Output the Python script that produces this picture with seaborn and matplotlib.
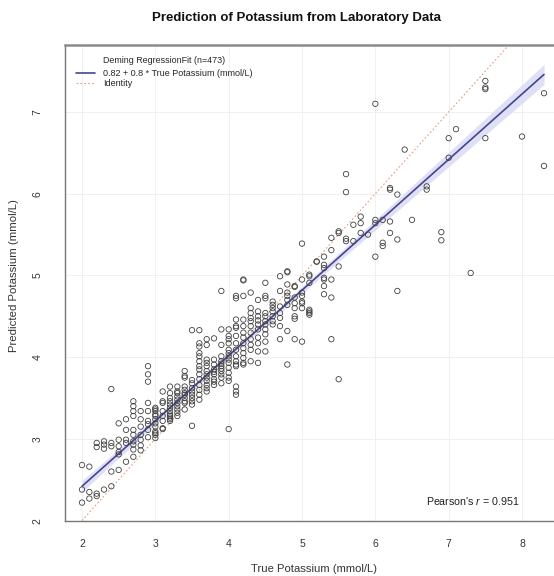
import numpy as np
import pandas as pd
import matplotlib
matplotlib.use("Agg")
import matplotlib.pyplot as plt
import seaborn as sns

# ---------------- data ----------------
true_levels = [2.0, 2.1, 2.2, 2.3, 2.4, 2.5, 2.6, 2.7, 2.8, 2.9,
               3.0, 3.1, 3.2, 3.3, 3.4, 3.5, 3.6, 3.7, 3.8, 3.9,
               4.0, 4.1, 4.2, 4.3, 4.4, 4.5, 4.6, 4.7, 4.8, 4.9,
               5.0, 5.1, 5.2, 5.3, 5.4, 5.5, 5.6, 5.7, 5.8, 5.9,
               6.0, 6.1, 6.2, 6.3, 6.4, 6.5, 6.7, 6.9, 7.0, 7.1,
               7.3, 7.5, 8.0, 8.3]
pred_by_level = [
    [2.68, 2.38, 2.22],
    [2.66, 2.35, 2.27],
    [2.95, 2.90, 2.33, 2.30],
    [2.97, 2.93, 2.88, 2.38],
    [3.61, 2.91, 2.95, 2.60, 2.42],
    [2.99, 2.91, 2.84, 2.62, 3.19, 2.81],
    [3.24, 3.11, 2.95, 2.72, 2.99],
    [3.46, 3.40, 3.34, 3.28, 3.11, 2.97, 2.93, 2.87, 2.78, 3.05],
    [3.34, 3.24, 2.99, 2.86, 3.15, 3.05, 2.92],
    [3.89, 3.79, 3.70, 3.44, 3.34, 3.22, 3.18, 3.11, 3.02],
    [3.38, 3.34, 3.28, 3.24, 3.19, 3.15, 3.09, 3.05, 3.01, 3.36, 3.30, 3.07],
    [3.58, 3.46, 3.44, 3.34, 3.13, 3.12, 3.28, 3.22],
    [3.64, 3.56, 3.50, 3.46, 3.42, 3.38, 3.34, 3.30, 3.26, 3.22, 3.28, 3.24],
    [3.64, 3.58, 3.52, 3.48, 3.44, 3.40, 3.36, 3.32, 3.28, 3.56],
    [3.83, 3.77, 3.75, 3.64, 3.60, 3.56, 3.54, 3.50, 3.46, 3.44, 3.36],
    [4.33, 3.68, 3.62, 3.58, 3.54, 3.50, 3.46, 3.16, 3.72, 3.42],
    [4.33, 4.17, 4.13, 4.05, 4.01, 3.95, 3.89, 3.85, 3.79, 3.73, 3.66, 3.60, 3.54, 3.48],
    [4.22, 4.15, 3.97, 3.93, 3.89, 3.83, 3.79, 3.75, 3.71, 3.66, 3.62, 3.58],
    [4.23, 3.97, 3.91, 3.85, 3.79, 3.73, 3.66, 3.70, 3.82],
    [4.81, 4.34, 4.15, 4.01, 3.95, 3.89, 3.83, 3.79, 3.75, 3.68, 3.86, 3.92],
    [4.34, 4.26, 4.22, 4.17, 4.09, 4.05, 4.01, 3.97, 3.93, 3.87, 3.81, 3.75, 3.71, 3.12],
    [4.75, 4.72, 4.46, 4.38, 4.36, 4.26, 4.17, 4.09, 4.01, 3.95, 3.91, 3.89, 3.64, 3.58, 3.54],
    [4.95, 4.94, 4.75, 4.46, 4.38, 4.30, 4.24, 4.17, 4.11, 4.05, 3.99, 3.93, 3.91],
    [4.79, 4.60, 4.54, 4.48, 4.44, 4.38, 4.30, 4.22, 4.15, 4.09, 3.95],
    [4.70, 4.56, 4.40, 4.34, 4.24, 4.17, 4.07, 3.93, 4.50, 4.45],
    [4.91, 4.75, 4.72, 4.54, 4.50, 4.44, 4.40, 4.34, 4.28, 4.19, 4.07],
    [4.64, 4.60, 4.56, 4.50, 4.44, 4.40, 4.68],
    [4.99, 4.81, 4.54, 4.48, 4.38, 4.22, 4.62],
    [5.05, 5.04, 4.89, 4.79, 4.75, 4.70, 4.64, 4.32, 3.91],
    [4.87, 4.86, 4.73, 4.66, 4.60, 4.50, 4.47, 4.22],
    [5.39, 4.95, 4.79, 4.75, 4.68, 4.66, 4.60, 4.19],
    [5.01, 4.99, 4.91, 4.58, 4.56, 4.54, 4.52],
    [5.17, 5.17],
    [5.23, 5.13, 5.09, 4.97, 4.95, 4.87, 4.77],
    [5.46, 5.31, 4.95, 4.73, 4.22],
    [5.54, 5.52, 5.11, 3.73],
    [6.24, 6.02, 5.45, 5.42],
    [5.62, 5.42],
    [5.72, 5.64, 5.52],
    [5.50],
    [7.10, 5.68, 5.64, 5.23],
    [5.68, 5.40, 5.36],
    [6.07, 6.05, 5.66, 5.52],
    [5.99, 5.44, 4.81],
    [6.54],
    [5.68],
    [6.09, 6.05],
    [5.53, 5.43],
    [6.68, 6.44],
    [6.79],
    [5.03],
    [7.38, 7.30, 7.28, 6.68],
    [6.70],
    [7.23, 6.34],
]

fit_intercept = 0.82
fit_slope = 0.8
n_obs = 473
pearson_r = 0.951

title_text = "Prediction of Potassium from Laboratory Data"
x_label = "True Potassium (mmol/L)"
y_label = "Predicted Potassium (mmol/L)"
legend_title = "Deming RegressionFit (n=473)"
fit_label = "0.82 + 0.8 * True Potassium (mmol/L)"
identity_label = "Identity"
x_ticks = [2, 3, 4, 5, 6, 7, 8]
y_ticks = [2, 3, 4, 5, 6, 7]

# ---------------- build table ----------------
true_k = [x for x, ys in zip(true_levels, pred_by_level) for _ in ys]
pred_k = [y for ys in pred_by_level for y in ys]
df = pd.DataFrame({"true": true_k, "pred": pred_k})

# fitted line + confidence band from the data
xs = np.linspace(min(true_k), max(true_k), 200)
fit = fit_intercept + fit_slope * xs
resid = df["pred"] - (fit_intercept + fit_slope * df["true"])
s_res = np.sqrt(np.sum(resid ** 2) / (len(df) - 2))
xbar = df["true"].mean()
sxx = np.sum((df["true"] - xbar) ** 2)
se = s_res * np.sqrt(1.0 / len(df) + (xs - xbar) ** 2 / sxx)
band = 1.96 * se
line_df = pd.DataFrame({"x": xs, "fit": fit, "ident": xs})

# ---------------- figure ----------------
sns.set_style("white")
plt.rcParams["font.family"] = ["Liberation Sans", "DejaVu Sans"]
plt.rcParams["mathtext.fontset"] = "custom"
plt.rcParams["mathtext.it"] = "Liberation Sans:italic"
plt.rcParams["mathtext.rm"] = "Liberation Sans"

fig = plt.figure(figsize=(5.54, 5.76), dpi=100)
fig.patch.set_facecolor("white")
ax = fig.add_axes([65 / 554, 55 / 576, 495 / 554, 476 / 576])

ax.set_xlim(1.768, 8.518)
ax.set_ylim(1.995, 7.82)

for v in x_ticks:
    ax.axvline(v, color="#f0f0f0", lw=0.7, zorder=0)
for v in y_ticks:
    ax.axhline(v, color="#f0f0f0", lw=0.7, zorder=0)

ax.fill_between(xs, fit - band, fit + band, color="#dcdcf6", alpha=0.9, lw=0, zorder=1)
sns.lineplot(data=line_df, x="x", y="ident", ax=ax, color="#e3a07f", lw=0.8,
             linestyle=(0, (1.5, 2)), label=identity_label, zorder=2)
sns.lineplot(data=line_df, x="x", y="fit", ax=ax, color="#45458f", lw=1.2,
             label=fit_label, zorder=3)
sns.scatterplot(data=df, x="true", y="pred", ax=ax, marker="o", s=15,
                facecolor="none", edgecolor="#404040", linewidth=0.6, zorder=4)

# legend (fit first, then identity)
handles, labels = ax.get_legend_handles_labels()
order = [labels.index(fit_label), labels.index(identity_label)]
leg = ax.legend([handles[i] for i in order], [labels[i] for i in order],
                title=legend_title, loc="upper left", frameon=False,
                fontsize=6.5, title_fontsize=6.4, handlelength=2.2,
                handletextpad=0.8, labelspacing=0.2,
                bbox_to_anchor=(0.005, 0.995))
leg._legend_box.sep = 3

ax.text(7.97, 2.24, "Pearson's $\\it{r}$ = " + f"{pearson_r:.3f}", ha="right",
        va="center", fontsize=7.7, color="#222222")

ax.set_xticks(x_ticks)
ax.set_yticks(y_ticks)
ax.set_xticklabels([str(t) for t in x_ticks], fontsize=7.5, color="#333333")
ax.set_yticklabels([str(t) for t in y_ticks], fontsize=7.5, color="#333333",
                   rotation=90, va="center")
ax.tick_params(axis="x", length=4, width=0.8, color="#777777", pad=9, direction="out")
ax.tick_params(axis="y", length=4, width=0.8, color="#777777", pad=12, direction="out")
ax.set_xlabel("")
ax.set_ylabel("")

for side in ["left", "bottom"]:
    ax.spines[side].set_color("#777777")
    ax.spines[side].set_linewidth(1.0)
ax.spines["top"].set_color("#8a8a8a")
ax.spines["top"].set_linewidth(1.8)
ax.spines["right"].set_visible(False)

fig.text(297 / 554, 1 - 18 / 576, title_text, ha="center", va="center",
         fontsize=9.5, fontweight="bold", color="#111111")
fig.text(314 / 554, 1 - 569 / 576, x_label, ha="center", va="center",
         fontsize=8.1, color="#333333")
fig.text(14 / 554, 1 - 276 / 576, y_label, ha="center", va="center",
         fontsize=8.2, color="#333333", rotation=90)

fig.savefig("out.png", dpi=100, facecolor="white")
